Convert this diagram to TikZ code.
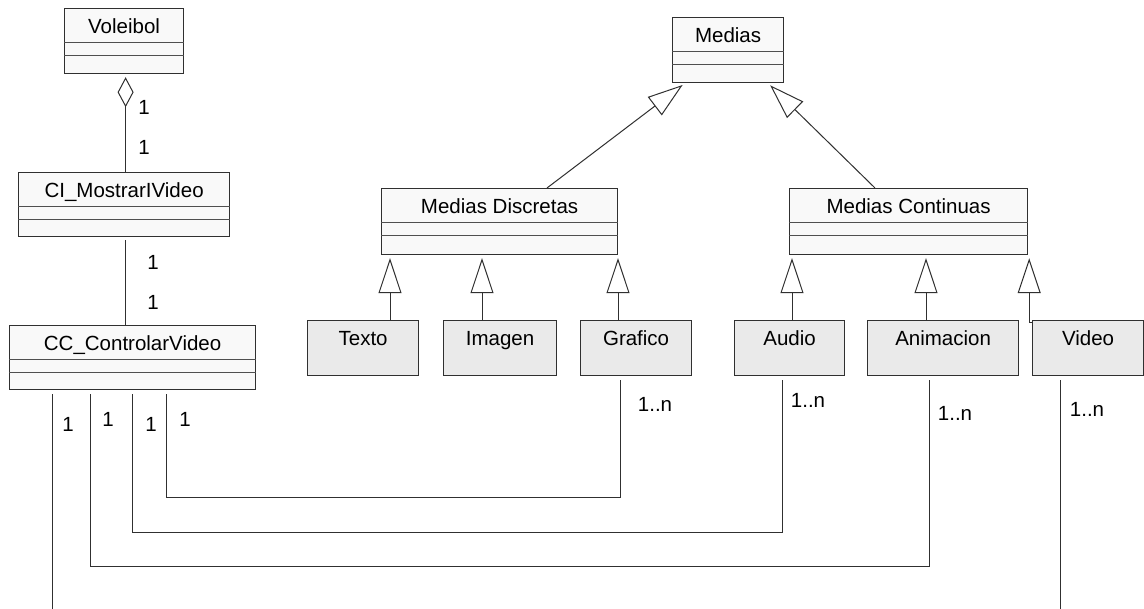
\documentclass[tikz,border=0pt]{standalone}
\usepackage{fontspec}
\setmainfont{Liberation Sans}
\usetikzlibrary{arrows.meta}
\definecolor{classfill}{HTML}{F9F9F9}
\definecolor{leaffill}{HTML}{EAEAEA}
\definecolor{edge}{HTML}{303030}

% class box with a name section and two empty compartments
\newcommand\umlclass[6]{% name, x, y, width, height, label
  \node[classbox, minimum width=#4pt, minimum height=#5pt] (#1) at (#2,#3) {};
  \draw[compart] ([yshift=-35pt]#1.north west) -- ([yshift=-35pt]#1.north east)
                 ([yshift=-48pt]#1.north west) -- ([yshift=-48pt]#1.north east);
  \node[cname] (#1-name) at ([yshift=-26pt]#1.north) {#6};}

% shaded leaf class, name only
\newcommand\umlleaf[4]{% name, x, width, label
  \node[leafbox, minimum width=#3pt, minimum height=55pt] (#1) at (#2,320) {};
  \node[cname] (#1-name) at ([yshift=-26pt]#1.north) {#4};}

\begin{document}
\begin{tikzpicture}[x=1pt,y=-1pt,
  classbox/.style={draw=edge, line width=1.2pt, fill=classfill, rectangle, inner sep=0pt, anchor=north west},
  leafbox/.style={draw=edge, line width=1.2pt, fill=leaffill, rectangle, inner sep=0pt, anchor=north west},
  cname/.style={anchor=base, inner sep=0pt, font=\fontsize{20.5}{24}\selectfont},
  mult/.style={inner sep=0pt, font=\fontsize{20.5}{24}\selectfont},
  compart/.style={draw=edge!85, line width=1pt},
  assoc/.style={draw=edge, line width=1pt},
  gen/.style={draw=edge, line width=1pt, -{Triangle[open, length=35pt, width=23pt]}, shorten >=3pt},
  agg/.style={draw=edge, line width=1pt, {Diamond[open, length=30pt, width=16pt]}-, shorten <=3pt}
]
\useasboundingbox (0,0) rectangle (1144,609);
\fill[white] (0,0) rectangle (1144,609);

% classes
\umlclass{vol}{64}{8}{119}{65}{Voleibol}
\umlclass{ci}{18}{172}{211}{64}{CI\_MostrarIVideo}
\umlclass{cc}{9}{325}{246}{64}{CC\_ControlarVideo}
\umlclass{med}{672}{17}{111}{65}{Medias}
\umlclass{md}{381}{188}{236}{66}{Medias Discretas}
\umlclass{mc}{789}{188}{238}{66}{Medias Continuas}

\umlleaf{texto}{307}{111}{Texto}
\umlleaf{imagen}{443}{113}{Imagen}
\umlleaf{grafico}{580}{111}{Grafico}
\umlleaf{audio}{734}{110}{Audio}
\umlleaf{anim}{867}{151}{Animacion}
\umlleaf{video}{1032}{111}{Video}

% aggregation and associations on the left
\draw[agg] ([xshift=1.5pt]vol.south) -- ([xshift=1.5pt]vol.south |- ci.north);
\draw[assoc, shorten <=3pt] ([xshift=1.5pt]ci.south) -- ([xshift=1.5pt]ci.south |- cc.north);
\node[mult] (a1) at (144,107) {1};
\node[mult] (a2) at (144,147) {1};
\node[mult] (a3) at (153,262) {1};
\node[mult] (a4) at (153,302) {1};

% generalizations
\draw[gen] ([xshift=166pt]md.north west) -- ([xshift=13pt]med.south west);
\draw[gen] ([xshift=86pt]mc.north west) -- ([xshift=96pt]med.south west);

\coordinate (t1) at ([xshift=83pt]texto.north west);
\coordinate (t2) at ([xshift=39pt]imagen.north west);
\coordinate (t3) at ([xshift=38pt]grafico.north west);
\coordinate (t4) at ([xshift=58pt]audio.north west);
\coordinate (t5) at ([xshift=59pt]anim.north west);
\draw[gen] (t1) -- (t1 |- md.south);
\draw[gen] (t2) -- (t2 |- md.south);
\draw[gen] (t3) -- (t3 |- md.south);
\draw[gen] (t4) -- (t4 |- mc.south);
\draw[gen] (t5) -- (t5 |- mc.south);
\coordinate (v1) at ([yshift=-3pt]video.north west);
\coordinate (v2) at ([xshift=1pt]mc.south east);
\draw[gen] (v1) -| (v2);

% associations from the controller to the media
\coordinate (c1) at ([xshift=43pt,yshift=-4pt]cc.south west);
\coordinate (c2) at ([xshift=81pt,yshift=-4pt]cc.south west);
\coordinate (c3) at ([xshift=123pt,yshift=-4pt]cc.south west);
\coordinate (c4) at ([xshift=157pt,yshift=-4pt]cc.south west);
\coordinate (g1) at ([xshift=40pt,yshift=-4pt]grafico.south west);
\coordinate (g2) at ([xshift=48pt,yshift=-4pt]audio.south west);
\coordinate (g3) at ([xshift=62pt,yshift=-4pt]anim.south west);
\coordinate (g4) at ([xshift=28pt,yshift=-4pt]video.south west);
\begin{scope}
\clip (0,0) rectangle (1144,609);
\draw[assoc] (c4) -- ++(0,103) -| (g1);
\draw[assoc] (c3) -- ++(0,138) -| (g2);
\draw[assoc] (c2) -- ++(0,172) -| (g3);
\draw[assoc] (c1) -- ++(0,240) -| (g4);
\end{scope}

\node[mult] (b1) at (68,424) {1};
\node[mult] (b2) at (108,419) {1};
\node[mult] (b3) at (151,424) {1};
\node[mult] (b4) at (185,419) {1};
\node[mult] (n1) at (655,404) {1..n};
\node[mult] (n2) at (808,400) {1..n};
\node[mult] (n3) at (955,413) {1..n};
\node[mult] (n4) at (1087,409) {1..n};
\end{tikzpicture}
\end{document}
